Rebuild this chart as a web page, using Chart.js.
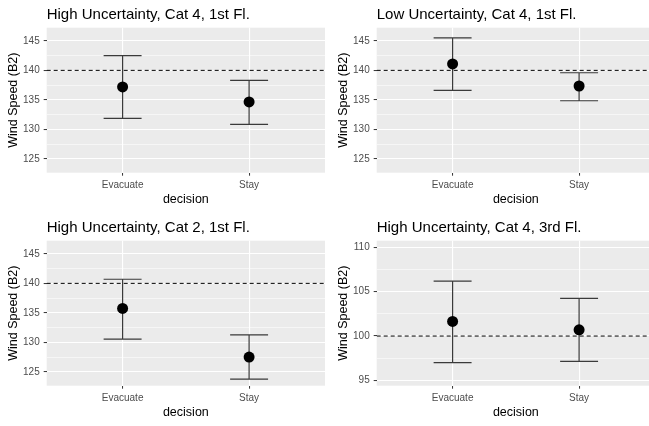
<!DOCTYPE html>
<html>
<head>
<meta charset="utf-8">
<script src="https://cdn.jsdelivr.net/npm/chart.js@4.4.1/dist/chart.umd.min.js"></script>
<style>
  html, body { margin: 0; padding: 0; background: #fff; overflow: hidden; width: 649px; height: 426px; }
  .panel { position: absolute; }
</style>
</head>
<body>
<div class="panel" style="left:0px;top:0px"><canvas id="p0" width="325" height="213"></canvas></div>
<div class="panel" style="left:330px;top:0px"><canvas id="p1" width="325" height="213"></canvas></div>
<div class="panel" style="left:0px;top:213px"><canvas id="p2" width="325" height="213"></canvas></div>
<div class="panel" style="left:330px;top:213px"><canvas id="p3" width="325" height="213"></canvas></div>
<script>
// data
const categories = ['Evacuate', 'Stay'];
const titles = [
    'High Uncertainty, Cat 4, 1st Fl.',
    'Low Uncertainty, Cat 4, 1st Fl.',
    'High Uncertainty, Cat 2, 1st Fl.',
    'High Uncertainty, Cat 4, 3rd Fl.'
];
const means = [[137.2, 134.65], [141.1, 137.35], [135.75, 127.5], [101.65, 100.7]];
const upper = [[142.5, 138.3], [145.5, 139.6], [140.7, 131.25], [106.2, 104.25]];
const lower = [[131.85, 130.85], [136.6, 134.85], [130.55, 123.75], [97.0, 97.15]];
const refLine = [140, 140, 140, 100];
const yMajor = [
    [125, 130, 135, 140, 145],
    [125, 130, 135, 140, 145],
    [125, 130, 135, 140, 145],
    [95, 100, 105, 110]
];
const yMinor = [
    [127.5, 132.5, 137.5, 142.5],
    [127.5, 132.5, 137.5, 142.5],
    [127.5, 132.5, 137.5, 142.5],
    [97.5, 102.5, 107.5]
];
const yLimits = [[122.64, 147.24], [122.64, 147.24], [122.64, 147.24], [94.4, 110.75]];

const FONT = "'Liberation Sans', Arial, sans-serif";

const panelBg = {
    id: 'panelBg',
    beforeDraw(chart) {
        const {ctx, chartArea: a} = chart;
        ctx.save();
        ctx.fillStyle = '#EBEBEB';
        ctx.fillRect(a.left, a.top, a.right - a.left, a.bottom - a.top);
        ctx.restore();
    }
};

// errorbars (width 0.3 like geom_errorbar)
const errorBars = {
    id: 'errorBars',
    beforeDatasetsDraw(chart, args, opts) {
        const {ctx, scales: {x, y}} = chart;
        const i = opts.panel;
        ctx.save();
        ctx.strokeStyle = '#3a3a3a';
        ctx.lineWidth = 1.2;
        categories.forEach((c, k) => {
            const cx = x.getPixelForValue(k + 1);
            const x0 = x.getPixelForValue(k + 1 - 0.15);
            const x1 = x.getPixelForValue(k + 1 + 0.15);
            const yt = y.getPixelForValue(upper[i][k]);
            const yb = y.getPixelForValue(lower[i][k]);
            ctx.beginPath();
            ctx.moveTo(x0, yt); ctx.lineTo(x1, yt);
            ctx.moveTo(cx, yt); ctx.lineTo(cx, yb);
            ctx.moveTo(x0, yb); ctx.lineTo(x1, yb);
            ctx.stroke();
        });
        ctx.restore();
    }
};

function makePanel(i) {
    const ctx = document.getElementById('p' + i).getContext('2d');
    const isMajor = v => yMajor[i].includes(v);
    return new Chart(ctx, {
        type: 'scatter',
        data: {
            datasets: [{
                type: 'line',
                data: [{x: 0.4, y: refLine[i]}, {x: 2.6, y: refLine[i]}],
                borderColor: '#000',
                borderWidth: 1,
                borderDash: [4, 3],
                pointRadius: 0,
                order: 1
            }, {
                data: categories.map((c, k) => ({x: k + 1, y: means[i][k]})),
                pointRadius: 5.5,
                pointBackgroundColor: '#000',
                pointBorderWidth: 0,
                order: 0
            }]
        },
        options: {
            responsive: false,
            animation: false,
            layout: {padding: 0, autoPadding: false},
            plugins: {
                legend: {display: false},
                tooltip: {enabled: false},
                title: {
                    display: true,
                    text: titles[i],
                    align: 'start',
                    fullSize: false,
                    color: '#000',
                    font: {family: FONT, size: 15, weight: 'normal'},
                    padding: {top: 5.5, bottom: 4.2}
                },
                errorBars: {panel: i}
            },
            scales: {
                x: {
                    type: 'linear',
                    min: 0.4,
                    max: 2.6,
                    afterBuildTicks: s => { s.ticks = categories.map((c, k) => ({value: k + 1})); },
                    afterFit: s => {
                        s.height = 40.3;
                        s.paddingLeft = 0;
                        s.paddingRight = 0;
                    },
                    border: {display: false},
                    grid: {color: '#fff', lineWidth: 1.1, tickLength: 3, tickColor: '#333', tickWidth: 1},
                    ticks: {
                        callback: v => categories[v - 1],
                        color: '#4D4D4D',
                        font: {family: FONT, size: 10},
                        padding: 4,
                        maxRotation: 0,
                        autoSkip: false
                    },
                    title: {
                        display: true,
                        text: 'decision',
                        color: '#000',
                        font: {family: FONT, size: 12.5},
                        padding: {top: 0, bottom: 5.8}
                    }
                },
                y: {
                    min: yLimits[i][0],
                    max: yLimits[i][1],
                    afterBuildTicks: s => {
                        s.ticks = yMajor[i].concat(yMinor[i]).sort((a, b) => a - b).map(v => ({value: v}));
                    },
                    afterFit: s => {
                        s.width = 46.7;
                        s.paddingTop = 0;
                        s.paddingBottom = 0;
                    },
                    border: {display: false},
                    grid: {
                        color: '#fff',
                        lineWidth: c => isMajor(c.tick.value) ? 1.1 : 0.55,
                        tickLength: 3,
                        tickColor: c => isMajor(c.tick.value) ? '#333' : 'rgba(0,0,0,0)',
                        tickWidth: 1
                    },
                    ticks: {
                        callback: v => isMajor(v) ? String(v) : '',
                        color: '#4D4D4D',
                        font: {family: FONT, size: 10},
                        padding: 4,
                        autoSkip: false
                    },
                    title: {
                        display: true,
                        text: 'Wind Speed (B2)',
                        color: '#000',
                        font: {family: FONT, size: 12.5},
                        padding: {top: 6, bottom: 0}
                    }
                }
            }
        },
        plugins: [panelBg, errorBars]
    });
}

[0, 1, 2, 3].forEach(makePanel);
</script>
</body>
</html>
